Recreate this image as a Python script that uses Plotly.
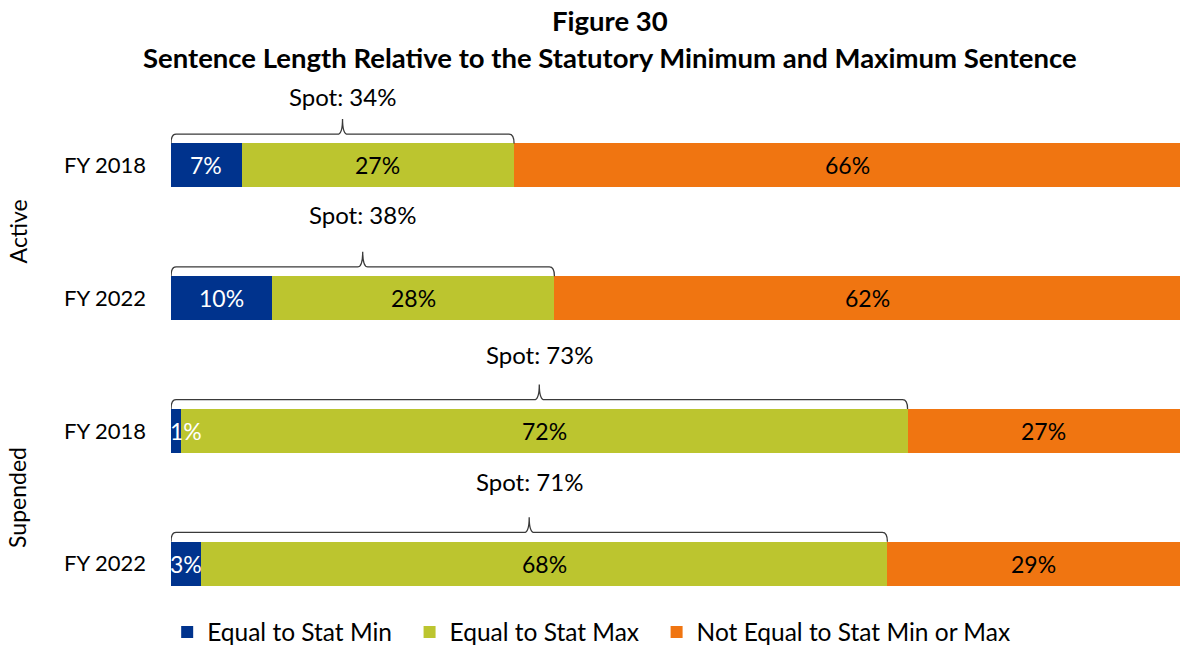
import plotly.graph_objects as go

groups = ["Active", "Supended"]
years = ["FY 2018", "FY 2022", "FY 2018", "FY 2022"]
stat_min = [7, 10, 1, 3]
stat_max = [27, 28, 72, 68]
not_equal = [66, 62, 27, 29]
spot = [34, 38, 73, 71]
title_lines = ["Figure 30",
               "Sentence Length Relative to the Statutory Minimum and Maximum Sentence"]

series = [
    ("Equal to Stat Min", stat_min, "#00338D", "white"),
    ("Equal to Stat Max", stat_max, "#BCC52F", "black"),
    ("Not Equal to Stat Min or Max", not_equal, "#F07511", "black"),
]

# extra vertical lift (px) of each "Spot" label, to match the reference layout
spot_label_lift = [0, 15, 7, 13]

FONT = "Lato"
NBSP = "\u00a0"
pos = list(range(len(years)))

fig = go.Figure()
for k, (name, vals, color, _) in enumerate(series):
    pad = NBSP * 2 if k < len(series) - 1 else ""
    fig.add_trace(go.Bar(
        y=pos, x=vals, name=name + pad, orientation="h",
        marker=dict(color=color, line=dict(width=0)),
        width=0.33, hovertemplate=name + ": %{x}%<extra></extra>",
    ))

annotations = []
# segment labels
for i in pos:
    cum = 0
    for name, vals, color, tc in series:
        v = vals[i]
        if v < 2:
            ann = dict(x=cum, xanchor="left", xshift=-3)
        else:
            ann = dict(x=cum + v / 2, xanchor="center")
        ann.update(y=i, xref="x", yref="y", text=f"{v}%", showarrow=False,
                   font=dict(family=FONT, size=23, color=tc))
        annotations.append(ann)
        cum += v

# braces + spot labels
shapes = []
for i in pos:
    s = spot[i]
    x0, x1, mid = 0.0, s, s / 2
    yl = i - 0.235
    ye = i - 0.165
    yt = i - 0.35
    dx = 0.5
    path = (f"M {x0},{ye} Q {x0},{yl} {x0+dx},{yl} L {mid-dx},{yl} "
            f"Q {mid},{yl} {mid},{yt} Q {mid},{yl} {mid+dx},{yl} "
            f"L {x1-dx},{yl} Q {x1},{yl} {x1},{ye}")
    shapes.append(dict(type="path", path=path, xref="x", yref="y",
                       line=dict(color="#3a3a3a", width=1.3)))
    annotations.append(dict(
        x=mid, y=yt, xref="x", yref="y", text=f"Spot: {s}%",
        showarrow=False, yanchor="bottom", yshift=6 + spot_label_lift[i],
        font=dict(family=FONT, size=24, color="black"),
    ))

# group labels
for g, yc in zip(groups, [0.5, 2.5]):
    annotations.append(dict(
        x=-0.152, y=yc, xref="paper", yref="y", text=g, textangle=-90,
        xanchor="center", yanchor="middle",
        showarrow=False, font=dict(family=FONT, size=23, color="black"),
    ))

# title lines
for txt, yy in zip(title_lines, [1 + 79 / 531, 1 + 42 / 531]):
    annotations.append(dict(
        x=0.4346, y=yy, xref="paper", yref="paper", text=f"<b>{txt}</b>",
        xanchor="center", yanchor="middle", showarrow=False,
        font=dict(family=FONT, size=27.5, color="black"),
    ))

fig.update_layout(
    width=1180, height=646,
    margin=dict(l=171, r=0, t=99, b=16, autoexpand=False),
    paper_bgcolor="white", plot_bgcolor="white",
    barmode="stack",
    xaxis=dict(range=[0, 100], visible=False, fixedrange=True),
    yaxis=dict(
        range=[3.5, -0.5], tickvals=pos, ticktext=years,
        showgrid=False, zeroline=False, showline=False, ticks="",
        ticklabelstandoff=24, fixedrange=True,
        tickfont=dict(family=FONT, size=22, color="black"),
    ),
    legend=dict(
        orientation="h", x=0.501, xref="container", xanchor="center",
        y=14 / 646, yref="container", yanchor="middle",
        font=dict(family=FONT, size=24.5, color="black"),
        traceorder="normal",
    ),
    shapes=shapes,
    annotations=annotations,
    font=dict(family=FONT),
)

fig.write_html("out.html", config={"displayModeBar": False},
               post_script="document.body.style.margin='0px';document.body.style.overflow='hidden';")
